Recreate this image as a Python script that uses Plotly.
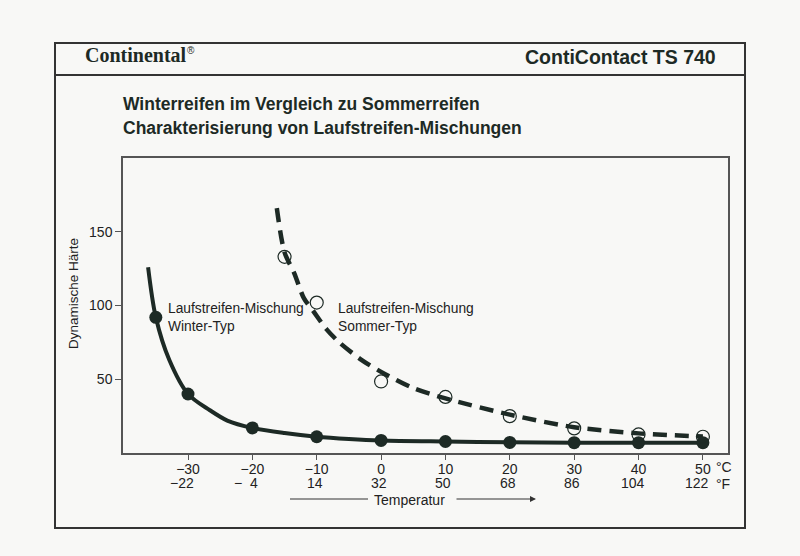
import plotly.graph_objects as go

# measured points (temperature in degC, dynamic hardness)
winter_t = [-35, -30, -20, -10, 0, 10, 20, 30, 40, 50]
winter_h = [92, 40, 17, 11, 8.5, 7.8, 7.2, 7, 7, 7]
summer_t = [-15, -10, 0, 10, 20, 30, 40, 50]
summer_h = [133, 102, 48.5, 38, 25, 16.7, 12.6, 11]

# hand-drawn trend curves
winter_curve_t = [-36.2, -35, -32.9, -30, -26.6, -23.9, -20, -15, -10, -5, 0, 10, 20, 30, 40, 50]
winter_curve_h = [126, 92, 63, 40, 29, 22, 17, 13.5, 11, 9.5, 8.5, 7.8, 7.3, 7, 7, 7]
summer_curve_t = [-16.2, -15, -13.5, -12, -10.5, -8.5, -6.5, -3, 0, 5, 10, 20, 30, 40, 50]
summer_curve_h = [166, 136, 122, 105, 96, 84, 75, 63, 55, 44, 37, 26, 17.5, 13.3, 11.2]

tick_c = [-30, -20, -10, 0, 10, 20, 30, 40, 50]
tick_c_text = ['\u221230', '\u221220', '\u221210', '0', '10', '20', '30', '40', '50']
tick_f_text = ['\u221222', '\u2212\u20074', '14', '32', '50', '68', '86', '104', '122']
y_ticks = [50, 100, 150]

ink = '#1d2a25'
txt = '#222222'
bg = '#f8f8f6'
font = 'Liberation Sans, Arial, sans-serif'

W, H = 800, 556
def px(x):
    return x / W
def py(y):
    return (H - y) / H

fig = go.Figure()

fig.add_trace(go.Scatter(x=winter_curve_t, y=winter_curve_h, mode='lines',
                         line=dict(color=ink, width=4, shape='spline', smoothing=0.9),
                         hoverinfo='skip'))
fig.add_trace(go.Scatter(x=summer_curve_t, y=summer_curve_h, mode='lines',
                         line=dict(color=ink, width=4.5, shape='spline', smoothing=0.8,
                                   dash='14px,8px'),
                         hoverinfo='skip'))
fig.add_trace(go.Scatter(x=winter_t, y=winter_h, mode='markers',
                         marker=dict(symbol='circle', size=13, color=ink)))
fig.add_trace(go.Scatter(x=summer_t, y=summer_h, mode='markers',
                         marker=dict(symbol='circle-open', size=13, color=ink,
                                     line=dict(color=ink, width=1.2))))

fig.update_layout(
    xaxis=dict(range=[-40.1, 53.9], tickvals=tick_c, ticktext=tick_c_text,
               ticks='outside', ticklen=5, tickcolor='#555', tickwidth=1,
               ticklabelstandoff=-3,
               showline=True, linecolor='#555', linewidth=1.5, mirror=True,
               showgrid=False, zeroline=False,
               tickfont=dict(family=font, size=14, color=txt),
               domain=[px(123), px(728)]),
    yaxis=dict(range=[0, 200], tickvals=y_ticks,
               ticks='outside', ticklen=6, tickcolor='#555', tickwidth=1,
               showline=True, linecolor='#555', linewidth=1.5, mirror=True,
               showgrid=False, zeroline=False,
               tickfont=dict(family=font, size=14, color=txt),
               domain=[py(453), py(158)]),
)

ann = []
# second row of tick labels in Fahrenheit
for c, f in zip(tick_c, tick_f_text):
    ann.append(dict(x=c, y=py(483), xref='x', yref='paper', xanchor='right', yanchor='middle',
                    xshift=8, text=f, showarrow=False,
                    font=dict(family=font, size=14, color=txt)))
# header
ann.append(dict(x=px(83), y=py(55), xref='paper', yref='paper', xanchor='left', yanchor='middle',
                text='<b>Continental</b>', showarrow=False,
                font=dict(family='Liberation Serif, serif', size=20, color=ink)))
ann.append(dict(x=px(191), y=py(50), xref='paper', yref='paper', xanchor='center', yanchor='middle',
                text='\u00ae', showarrow=False,
                font=dict(family=font, size=10, color=ink)))
ann.append(dict(x=px(718), y=py(57), xref='paper', yref='paper', xanchor='right', yanchor='middle',
                text='<b>ContiContact TS 740</b>', showarrow=False,
                font=dict(family=font, size=19.5, color=ink)))
# title
ann.append(dict(x=px(121), y=py(104), xref='paper', yref='paper', xanchor='left', yanchor='middle',
                text='<b>Winterreifen im Vergleich zu Sommerreifen</b>', showarrow=False,
                font=dict(family=font, size=17.5, color=ink)))
ann.append(dict(x=px(121), y=py(128), xref='paper', yref='paper', xanchor='left', yanchor='middle',
                text='<b>Charakterisierung von Laufstreifen-Mischungen</b>', showarrow=False,
                font=dict(family=font, size=17.5, color=ink)))
# y title
ann.append(dict(x=px(73), y=py(294), xref='paper', yref='paper', xanchor='center', yanchor='middle',
                text='Dynamische Härte', textangle=-90, showarrow=False,
                font=dict(family=font, size=13.5, color=txt)))
# series labels
ann.append(dict(x=px(166), y=py(317), xref='paper', yref='paper', xanchor='left', yanchor='middle',
                text='Laufstreifen-Mischung<br>Winter-Typ', align='left', showarrow=False,
                font=dict(family=font, size=13.8, color=txt)))
ann.append(dict(x=px(336), y=py(317), xref='paper', yref='paper', xanchor='left', yanchor='middle',
                text='Laufstreifen-Mischung<br>Sommer-Typ', align='left', showarrow=False,
                font=dict(family=font, size=13.8, color=txt)))
# units
ann.append(dict(x=px(714), y=py(467), xref='paper', yref='paper', xanchor='left', yanchor='middle',
                text='\u00b0C', showarrow=False, font=dict(family=font, size=14, color=txt)))
ann.append(dict(x=px(714), y=py(484), xref='paper', yref='paper', xanchor='left', yanchor='middle',
                text='\u00b0F', showarrow=False, font=dict(family=font, size=14, color=txt)))
# temperature axis label with arrow
ann.append(dict(x=px(410), y=py(500), xref='paper', yref='paper', xanchor='center', yanchor='middle',
                text='Temperatur', showarrow=False,
                font=dict(family=font, size=14, color=txt)))
ann.append(dict(x=px(536), y=py(499), xref='paper', yref='paper', ax=-81, ay=0,
                text='', showarrow=True,
                arrowhead=2, arrowsize=1.2, arrowwidth=1, arrowcolor='#333'))

shapes = [
    dict(type='rect', xref='paper', yref='paper', x0=px(55), x1=px(745), y0=py(528), y1=py(43),
         line=dict(color='#333', width=2)),
    dict(type='line', xref='paper', yref='paper', x0=px(55), x1=px(745), y0=py(75), y1=py(75),
         line=dict(color='#333', width=2)),
    dict(type='line', xref='paper', yref='paper', x0=px(290), x1=px(368), y0=py(499), y1=py(499),
         line=dict(color='#333', width=1)),
]

fig.update_layout(width=W, height=H, margin=dict(l=0, r=0, t=0, b=0),
                  paper_bgcolor=bg, plot_bgcolor=bg, showlegend=False,
                  annotations=ann, shapes=shapes)

fig.write_html("out.html", config={'displayModeBar': False},
               post_script="document.body.style.margin='0';document.body.style.overflow='hidden';")
